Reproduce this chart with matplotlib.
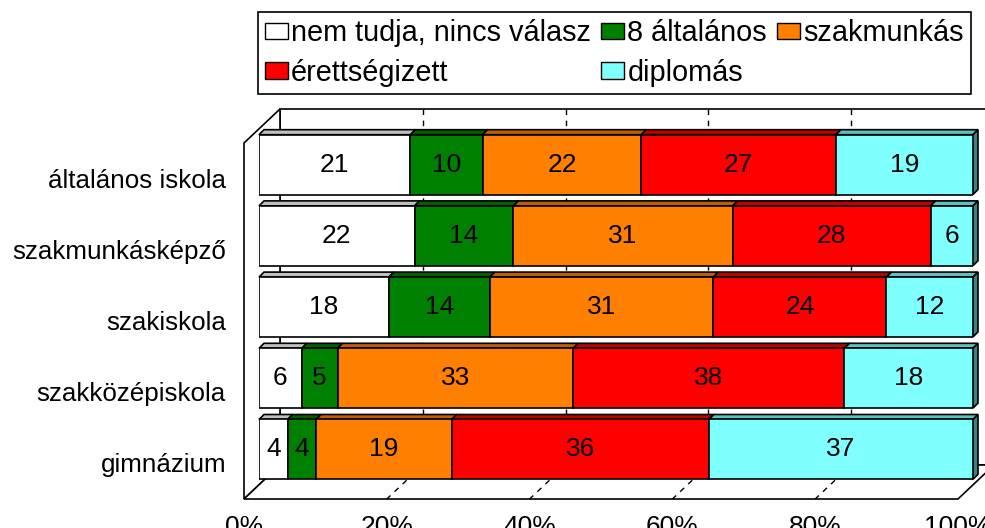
import matplotlib
matplotlib.use("Agg")
import matplotlib.pyplot as plt
from matplotlib.patches import Polygon, Patch

plt.rcParams["font.family"] = ["Liberation Sans", "DejaVu Sans"]

# adatok
categories = ["általános iskola", "szakmunkásképző", "szakiskola", "szakközépiskola", "gimnázium"]
series = ["nem tudja, nincs válasz", "8 általános", "szakmunkás", "érettségizett", "diplomás"]
colors = ["#FFFFFF", "#008000", "#FF8000", "#FF0000", "#80FFFF"]
nem_tudja = [21, 22, 18, 6, 4]
altalanos8 = [10, 14, 14, 5, 4]
szakmunkas = [22, 31, 31, 33, 19]
erettsegi = [27, 28, 24, 38, 36]
diplomas = [19, 6, 12, 18, 37]
xticks = [0, 20, 40, 60, 80, 100]
xticklabels = ["0%", "20%", "40%", "60%", "80%", "100%"]

values = [nem_tudja, altalanos8, szakmunkas, erettsegi, diplomas]


def darker(c, f):
    c = matplotlib.colors.to_rgb(c)
    return tuple(v * f for v in c)


fig = plt.figure(figsize=(9.85, 5.28), dpi=100)
FW, FH = 985, 528
ax = fig.add_axes([259 / FW, (FH - 485) / FH, 714 / FW, 356 / FH])
ax.set_xlim(0, 100)
ax.set_ylim(4.5, -0.5)
ax.axis("off")

# pixel -> adat egység
ux = 100 / ax.bbox.width
uy = 5 / ax.bbox.height


def sh(x, y, px, py):
    return (x + px * ux, y - py * uy)


BACK = (21, 20)
FRONT = (-15, -14)
DEPTH = (5, 5)
y_top, y_bot = -0.5, 4.5
lw = 1.2

# hátsó fal
back = Polygon([sh(0, y_top, *BACK), sh(100, y_top, *BACK), sh(100, y_bot, *BACK), sh(0, y_bot, *BACK)],
               closed=True, facecolor="white", edgecolor="black", lw=lw, clip_on=False, zorder=0)
ax.add_patch(back)
# bal fal
left = Polygon([sh(0, y_top, *FRONT), sh(0, y_top, *BACK), sh(0, y_bot, *BACK), sh(0, y_bot, *FRONT)],
               closed=True, facecolor="white", edgecolor="black", lw=lw, clip_on=False, zorder=0)
ax.add_patch(left)
# padló
floor = Polygon([sh(0, y_bot, *FRONT), sh(100, y_bot, *FRONT), sh(100, y_bot, *BACK), sh(0, y_bot, *BACK)],
                closed=True, facecolor="white", edgecolor="black", lw=lw, clip_on=False, zorder=0)
ax.add_patch(floor)

# rácsvonalak
for t in xticks[1:-1]:
    p0, p1 = sh(t, y_top, *BACK), sh(t, y_bot, *BACK)
    ax.plot([p0[0], p1[0]], [p0[1], p1[1]], color="black", lw=1, ls=(0, (4, 4)), clip_on=False, zorder=1)
    q0, q1 = sh(t, y_bot, *BACK), sh(t, y_bot, *FRONT)
    ax.plot([q0[0], q1[0]], [q0[1], q1[1]], color="black", lw=1, ls=(0, (4, 4)), clip_on=False, zorder=1)

# oszlopok
h = 0.84
for i, cat in enumerate(categories):
    row = [v[i] for v in values]
    tot = sum(row)
    x0 = 0
    for j, v in enumerate(row):
        w = v / tot * 100
        ax.barh(i, w, left=x0, height=h, color=colors[j], edgecolor="black", lw=lw, zorder=4)
        yt = i - h / 2
        top = Polygon([(x0, yt), (x0 + w, yt), sh(x0 + w, yt, *DEPTH), sh(x0, yt, *DEPTH)],
                      closed=True, facecolor=darker(colors[j], 0.75), edgecolor="black", lw=lw,
                      clip_on=False, zorder=3)
        ax.add_patch(top)
        if j == len(row) - 1:
            yb = i + h / 2
            side = Polygon([(x0 + w, yt), sh(x0 + w, yt, *DEPTH), sh(x0 + w, yb, *DEPTH), (x0 + w, yb)],
                           closed=True, facecolor=darker(colors[j], 0.5), edgecolor="black", lw=lw,
                           clip_on=False, zorder=3)
            ax.add_patch(side)
        ax.text(x0 + w / 2, i, str(v), ha="center", va="center", fontsize=19, zorder=5)
        x0 += w
    lx, ly = sh(0, i, FRONT[0] - 18, FRONT[1] - 2)
    ax.text(lx, ly, cat, ha="right", va="center", fontsize=18.7)

for t, lab in zip(xticks, xticklabels):
    tx, ty = sh(t, y_bot, FRONT[0], FRONT[1] - 16)
    ax.text(tx, ty, lab, ha="center", va="top", fontsize=19, clip_on=False)

# jelmagyarázat (sorfolytonos sorrend)
order = [0, 3, 1, 4, 2]
handles = [Patch(facecolor=colors[k], edgecolor="black", lw=1) for k in order]
labels = [series[k] for k in order]
leg = fig.legend(handles, labels, ncol=3, loc="upper left", bbox_to_anchor=(258 / FW, 1 - 12 / FH),
                 fontsize=20.8, frameon=True, fancybox=False, edgecolor="black", framealpha=1,
                 borderpad=0.25, borderaxespad=0, handlelength=0.8, handleheight=0.5,
                 handletextpad=0.1, columnspacing=0.35, labelspacing=0.4)
leg.get_frame().set_linewidth(1.2)

fig.savefig("out.png", dpi=100)
